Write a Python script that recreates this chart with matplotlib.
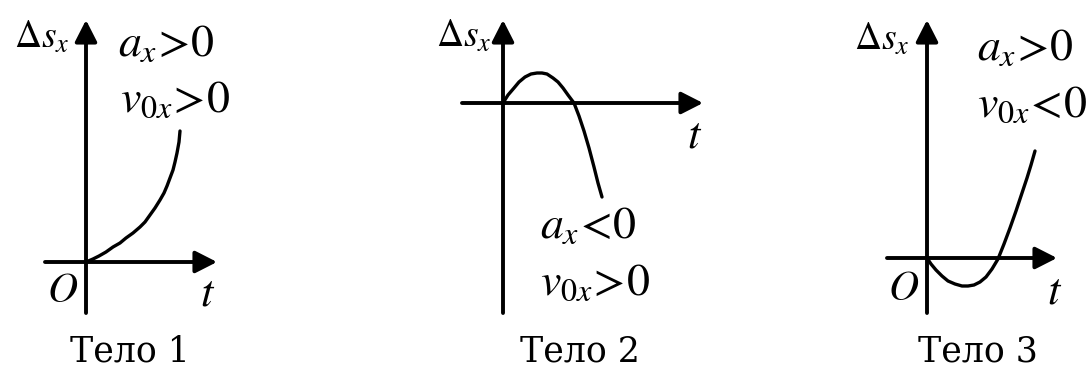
import matplotlib
matplotlib.use('Agg')
import matplotlib.pyplot as plt

# displacement curves (t, delta s), one unit = 1 px
t1 = [0, 7, 13, 20, 27, 34, 40, 47, 54, 59, 64, 69, 74, 78, 81, 84, 87, 89, 91, 93, 94]
s1 = [0, 3, 6, 10, 15, 19, 24, 29, 35, 40, 47, 54, 62, 69, 76, 84, 92, 100, 109, 120, 131]

t2 = [0, 5, 11, 16, 22, 28, 34, 39, 44, 50, 55, 60, 65, 71, 76, 81, 86, 91, 95, 99]
s2 = [0, 8, 15, 21, 26, 29, 30, 30, 29, 25, 21, 15, 8, 0, -13, -28, -45, -64, -80, -94]

t3 = [0, 4, 9, 15, 21, 28, 35, 41, 47, 53, 59, 65, 71, 77, 83, 89, 95, 100, 104, 108]
s3 = [0, -6, -12, -18, -23, -26, -28, -28, -27, -24, -19, -11, -1, 14, 30, 47, 65, 80, 93, 107]

captions = ['Тело 1', 'Тело 2', 'Тело 3']
cond_a = [r'$a_x\!>\!0$', r'$a_x\!<\!0$', r'$a_x\!>\!0$']
cond_v = [r'$v_{0x}\!>\!0$', r'$v_{0x}\!>\!0$', r'$v_{0x}\!<\!0$']

plt.rcParams['font.family'] = 'DejaVu Serif'
plt.rcParams['mathtext.fontset'] = 'stix'

W, H = 1091, 367
fig = plt.figure(figsize=(W / 100, H / 100), dpi=100)
fig.patch.set_facecolor('white')

# per panel: origin in px (from top-left), axis extents, label spots
panels = [
    dict(o=(86, 262), xax=(-41, 131), yax=(-51, 242), ds=(-72, 214),
         a=(32, 206), v=(34, 150), O=(-39, -40), t=(114, -43), cap=(44, -99)),
    dict(o=(503, 103), xax=(-41, 200), yax=(-210, 83), ds=(-67, 56),
         a=(37, -135), v=(37, -192), O=None, t=(184, -44), cap=(77, -258)),
    dict(o=(927, 258), xax=(-40, 130), yax=(-55, 238), ds=(-73, 208),
         a=(50, 198), v=(50, 141), O=(-39, -42), t=(120, -45), cap=(51, -103)),
]
curves = [(t1, s1), (t2, s2), (t3, s3)]

arrow = dict(arrowstyle='-|>,head_length=0.55,head_width=0.28', lw=2.8,
             color='black', mutation_scale=24, shrinkA=0, shrinkB=0)

for i, p in enumerate(panels):
    ox, oy = p['o']
    ax = fig.add_axes([0, 0, 1, 1])
    ax.set_xlim(-ox, W - ox)
    ax.set_ylim(-(H - oy), oy)
    ax.axis('off')
    ax.patch.set_alpha(0)

    ax.annotate('', xy=(p['xax'][1], 0), xytext=(p['xax'][0], 0), arrowprops=arrow)
    ax.annotate('', xy=(0, p['yax'][1]), xytext=(0, p['yax'][0]), arrowprops=arrow)

    t, s = curves[i]
    ax.plot(t, s, color='black', lw=2.4, solid_capstyle='round', solid_joinstyle='round')

    ax.text(*p['ds'], r'$\Delta s_x$', fontsize=27, ha='left', va='baseline')
    ax.text(*p['a'], cond_a[i], fontsize=33, ha='left', va='baseline')
    ax.text(*p['v'], cond_v[i], fontsize=33, ha='left', va='baseline')
    if p['O'] is not None:
        ax.text(*p['O'], r'$O$', fontsize=30, ha='left', va='baseline')
    ax.text(*p['t'], r'$t$', fontsize=32, ha='left', va='baseline')
    ax.text(*p['cap'], captions[i], fontsize=25, ha='center', va='baseline')

fig.savefig('out.png', dpi=100, facecolor='white')
